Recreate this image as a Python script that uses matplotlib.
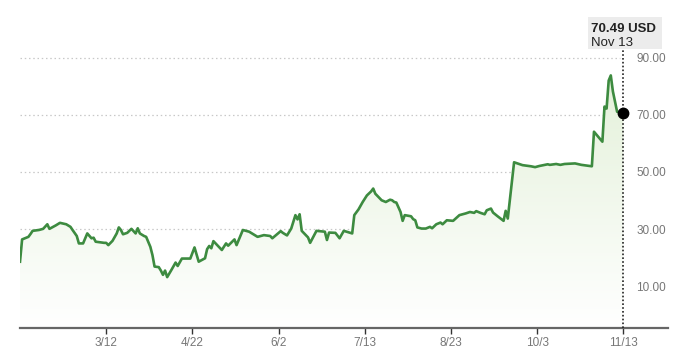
import matplotlib
matplotlib.use('Agg')
import matplotlib.pyplot as plt
import matplotlib.dates as mdates
from matplotlib.colors import LinearSegmentedColormap
from matplotlib.patches import Rectangle
import numpy as np
import pandas as pd

plt.rcParams['font.family'] = ['Liberation Sans', 'DejaVu Sans']

# price series (USD)
dates = [
    '2024-01-31', '2024-02-01', '2024-02-04', '2024-02-05', '2024-02-06', '2024-02-09',
    '2024-02-11', '2024-02-13', '2024-02-14', '2024-02-17', '2024-02-19', '2024-02-22',
    '2024-02-24', '2024-02-25', '2024-02-27', '2024-02-28', '2024-03-01', '2024-03-03',
    '2024-03-05', '2024-03-06', '2024-03-07', '2024-03-11', '2024-03-12', '2024-03-13',
    '2024-03-15', '2024-03-17', '2024-03-18', '2024-03-19', '2024-03-20', '2024-03-22',
    '2024-03-24', '2024-03-26', '2024-03-27', '2024-03-28', '2024-03-30', '2024-03-31',
    '2024-04-02', '2024-04-03', '2024-04-04', '2024-04-06', '2024-04-07', '2024-04-08',
    '2024-04-09', '2024-04-10', '2024-04-12', '2024-04-14', '2024-04-15', '2024-04-17',
    '2024-04-21', '2024-04-23', '2024-04-25', '2024-04-28', '2024-04-29', '2024-04-30',
    '2024-05-01', '2024-05-02', '2024-05-06', '2024-05-08', '2024-05-09', '2024-05-12',
    '2024-05-13', '2024-05-16', '2024-05-19', '2024-05-23', '2024-05-26', '2024-05-29',
    '2024-05-30', '2024-06-03', '2024-06-04', '2024-06-06', '2024-06-08', '2024-06-10',
    '2024-06-11', '2024-06-12', '2024-06-13', '2024-06-16', '2024-06-17', '2024-06-20',
    '2024-06-24', '2024-06-25', '2024-06-26', '2024-06-29', '2024-07-01', '2024-07-03',
    '2024-07-07', '2024-07-08', '2024-07-10', '2024-07-12', '2024-07-14', '2024-07-16',
    '2024-07-17', '2024-07-18', '2024-07-21', '2024-07-23', '2024-07-24', '2024-07-25',
    '2024-07-26', '2024-07-27', '2024-07-28', '2024-07-30', '2024-07-31', '2024-08-01',
    '2024-08-04', '2024-08-05', '2024-08-06', '2024-08-07', '2024-08-09', '2024-08-11',
    '2024-08-13', '2024-08-14', '2024-08-16', '2024-08-18', '2024-08-19', '2024-08-21',
    '2024-08-24', '2024-08-27', '2024-08-30', '2024-09-01', '2024-09-03', '2024-09-04',
    '2024-09-06', '2024-09-08', '2024-09-09', '2024-09-11', '2024-09-12', '2024-09-14',
    '2024-09-17', '2024-09-18', '2024-09-19', '2024-09-22', '2024-09-24', '2024-09-26',
    '2024-09-30', '2024-10-02', '2024-10-04', '2024-10-08', '2024-10-09', '2024-10-12',
    '2024-10-14', '2024-10-16', '2024-10-21', '2024-10-24', '2024-10-29', '2024-10-30',
    '2024-11-03', '2024-11-04', '2024-11-05', '2024-11-06', '2024-11-07', '2024-11-08',
    '2024-11-10', '2024-11-12', '2024-11-13',
]
prices = [
    18.6, 26.4, 27.3, 28.3, 29.4, 29.7,
    30.1, 31.7, 30.1, 31.3, 32.2, 31.7,
    30.8, 29.7, 27.6, 25.0, 25.0, 28.5,
    26.8, 27.0, 25.6, 25.2, 25.2, 24.4,
    25.9, 28.5, 30.6, 29.7, 28.2, 28.7,
    30.1, 28.5, 30.3, 28.5, 27.6, 27.3,
    23.8, 20.9, 16.9, 16.7, 15.5, 14.0,
    15.5, 13.2, 15.7, 18.3, 17.1, 19.7,
    19.7, 23.6, 18.6, 19.8, 23.0, 24.1,
    23.3, 25.8, 22.7, 25.0, 24.2, 26.4,
    24.4, 29.7, 29.1, 27.3, 27.9, 27.6,
    26.8, 29.3, 28.7, 27.8, 30.2, 34.9,
    33.4, 35.2, 29.4, 27.1, 25.2, 29.4,
    29.1, 26.2, 28.8, 28.7, 26.8, 29.4,
    28.5, 34.9, 36.9, 39.5, 41.8, 43.2,
    44.2, 42.4, 40.1, 39.5, 39.9, 40.3,
    40.1, 39.5, 39.3, 36.0, 32.9, 34.9,
    34.5, 33.5, 33.1, 30.6, 30.2, 30.2,
    30.8, 30.3, 31.7, 32.3, 31.7, 33.1,
    32.9, 34.9, 35.5, 36.0, 35.7, 36.3,
    35.7, 35.2, 36.6, 37.2, 35.8, 34.6,
    32.9, 36.4, 33.7, 53.4, 52.9, 52.4,
    52.0, 51.7, 52.1, 52.7, 52.5, 52.8,
    52.5, 52.8, 53.0, 52.5, 52.0, 64.1,
    60.6, 72.9, 72.2, 82.0, 83.8, 78.2,
    71.1, 70.8, 70.49,
]

x_ticks = ['2024-03-12', '2024-04-22', '2024-06-02', '2024-07-13', '2024-08-23', '2024-10-03', '2024-11-13']
x_tick_labels = ['3/12', '4/22', '6/2', '7/13', '8/23', '10/3', '11/13']
y_ticks = [10, 30, 50, 70, 90]

tooltip_value = '70.49 USD'
tooltip_date = 'Nov 13'

line_color = '#3d8b40'
grid_color = '#c8c8c8'
label_color = '#777777'


def plot():
    x = pd.to_datetime(dates)
    y = np.array(prices)

    fig = plt.figure(figsize=(6.8, 3.6), dpi=100)
    ax = fig.add_axes([20 / 680, 32.3 / 360, 648 / 680, 307.7 / 360])

    x_left = pd.Timestamp('2024-01-31')
    x_right = pd.Timestamp('2024-12-04 05:00')
    ax.set_xlim(x_left, x_right)
    ax.set_ylim(-4.5, 103.2)

    # gradient under the line
    fill = ax.fill_between(x, y, -4.5, color='none', lw=0)
    cmap = LinearSegmentedColormap.from_list('g', ['#ffffff', '#e4f1da'])
    grad = np.linspace(0, 1, 256).reshape(-1, 1)
    xn = mdates.date2num([x_left, x[-1]])
    img = ax.imshow(grad, cmap=cmap, aspect='auto', origin='lower',
                    extent=[xn[0], xn[1], -4.5, y.max()], zorder=1)
    img.set_clip_path(fill.get_paths()[0], transform=ax.transData)
    ax.set_xlim(x_left, x_right)
    ax.set_ylim(-4.5, 103.2)

    # dotted gridlines ending just before the last point
    ax.hlines(y_ticks, x_left, x[-1] - pd.Timedelta(days=1.5), colors=grid_color,
              linestyles=(0, (1.2, 2.2)), lw=0.9, zorder=0)

    ax.plot(x, y, color=line_color, lw=1.9, zorder=3, solid_joinstyle='round')

    # hover line + marker
    ax.axvline(x[-1], color='#222222', lw=1.2, ls=(0, (1, 1.3)), zorder=4)
    ax.plot([x[-1]], [y[-1]], 'o', color='black', ms=7.5, zorder=5)

    for s in ['top', 'left', 'right']:
        ax.spines[s].set_visible(False)
    ax.spines['bottom'].set_color('#666666')
    ax.spines['bottom'].set_linewidth(1.6)

    ax.set_xticks(pd.to_datetime(x_ticks))
    ax.set_xticklabels(x_tick_labels)
    ax.tick_params(axis='x', length=4, width=1, color='#333333', labelcolor=label_color,
                   labelsize=8.5, pad=3)

    ax.yaxis.tick_right()
    ax.set_yticks(y_ticks)
    ax.set_yticklabels([f'{v:.2f}' for v in y_ticks])
    ax.tick_params(axis='y', length=0, labelcolor=label_color, labelsize=8.5, pad=-1.5)
    for lbl in ax.get_yticklabels():
        lbl.set_horizontalalignment('right')

    ax.set_facecolor('none')

    # tooltip box
    fig.patches.append(Rectangle((588 / 680, 1 - 49 / 360), 74 / 680, 32 / 360,
                                 transform=fig.transFigure, facecolor='#ececec',
                                 edgecolor='none', zorder=10))
    fig.text(591 / 680, 1 - 32 / 360, tooltip_value, fontsize=9.5, fontweight='bold',
             color='#222222', va='baseline', zorder=11)
    fig.text(591 / 680, 1 - 46 / 360, tooltip_date, fontsize=9.5,
             color='#222222', va='baseline', zorder=11)

    plt.savefig('out.png', dpi=100)


def main():
    plot()


if __name__ == '__main__':
    main()
